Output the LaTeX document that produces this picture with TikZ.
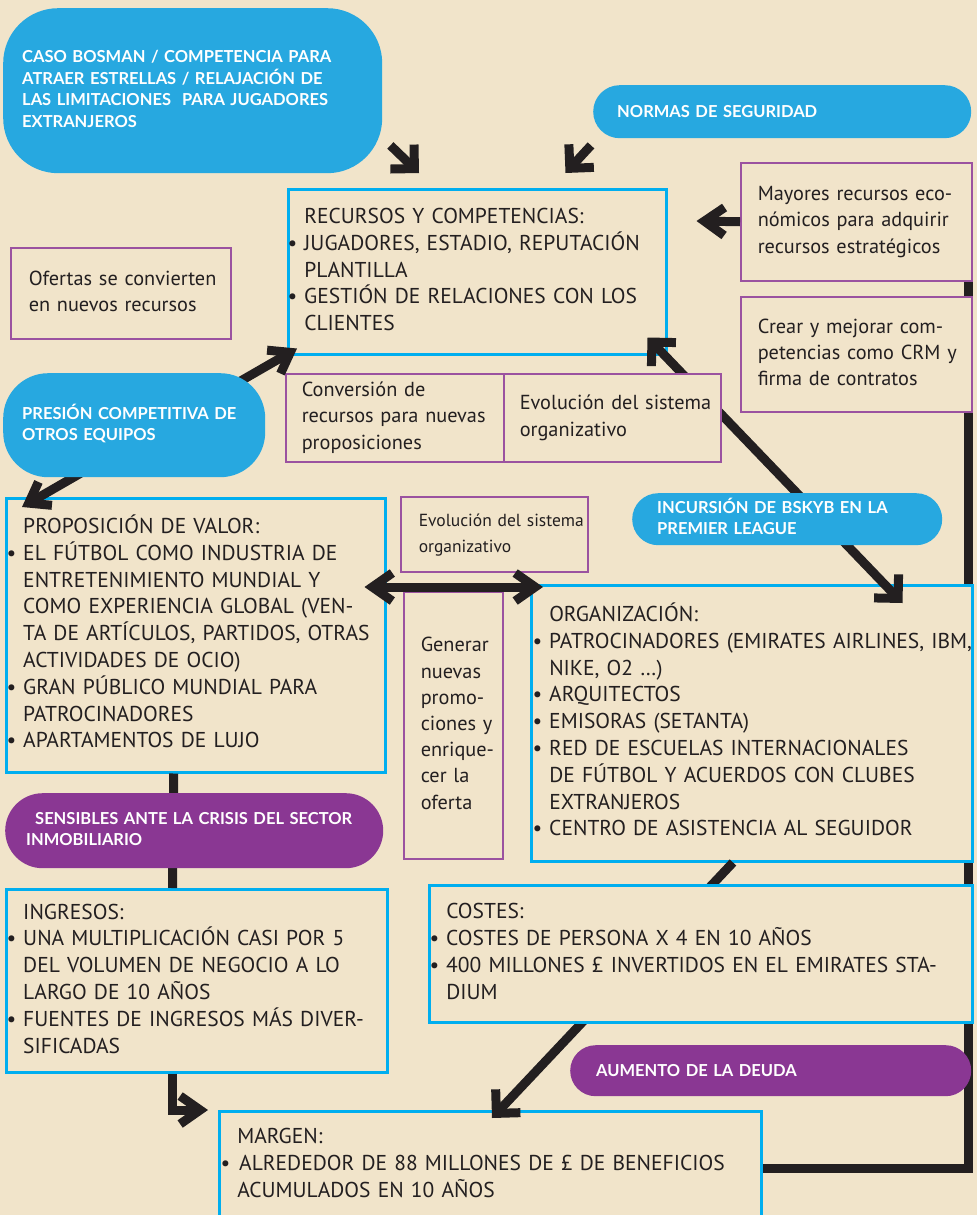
\documentclass[tikz,border=0pt]{standalone}
\usepackage{fontspec}
\setmainfont{PT Sans}
\newfontfamily\pillfam{Lato}
\usetikzlibrary{arrows.meta}
\pgfdeclarelayer{back}
\pgfdeclarelayer{behind}
\pgfdeclarelayer{arrows}
\pgfdeclarelayer{front}
\pgfsetlayers{back,behind,main,arrows,front}
\newcommand{\rows}[1]{\begin{tabular}{@{}l@{}}#1\end{tabular}}
\newcommand{\itm}{\llap{•\hspace{7pt}}}
\newcommand{\bodyfont}{\fontsize{21.5}{26.8}\selectfont}
\newcommand{\notefont}{\fontsize{20.3}{26.2}\selectfont}
\newcommand{\pillfont}{\pillfam\bfseries\fontsize{16.5}{21.3}\selectfont}

\begin{document}
\begin{tikzpicture}[x=1pt, y=-1pt,
        box/.style={draw=cyanline, line width=2.5pt, fill=paper, text=ink,
          anchor=north west, inner ysep=0pt, align=left, font=\bodyfont},
        note/.style={box, draw=plum, line width=1.5pt, font=\notefont},
        pill/.style={fill=skyblue, text=white, anchor=north west,
          inner ysep=0pt, align=left, font=\pillfont},
        ppill/.style={pill, fill=grape},
        lnk/.style={draw=ink, line width=9pt, line join=miter},
        Hd/.tip={Straight Barb[length=20pt,width=28pt]},
        Dg/.tip={Straight Barb[length=17pt,width=34pt]},
        Tw/.tip={Straight Barb[length=19pt,width=27pt]}]
      \definecolor{paper}{HTML}{F1E4CA}
      \definecolor{cyanline}{HTML}{00AEEF}
      \definecolor{skyblue}{HTML}{27A8E0}
      \definecolor{grape}{HTML}{8A3793}
      \definecolor{plum}{HTML}{9B52A0}
      \definecolor{ink}{HTML}{231F20}
      \begin{pgfonlayer}{back}
        \fill[paper] (0,0) rectangle (977,1215);
      \end{pgfonlayer}
      \useasboundingbox (0,0) rectangle (977,1215);

      % boxes behind the connectors
      \node[box, minimum width=378pt, minimum height=165pt, text width=346pt, inner xsep=16pt]
        (rec) at (287,188) {\rows{RECURSOS Y COMPETENCIAS:\\
          \itm JUGADORES, ESTADIO, REPUTACIÓN\\ PLANTILLA\\
          \itm GESTIÓN DE RELACIONES CON LOS\\ CLIENTES}};
      \node[note, minimum width=231pt, minimum height=118pt, text width=197pt, inner xsep=17pt]
        (mayores) at (740,162) {\rows{Mayores recursos eco-\\ nómicos para adquirir\\ recursos estratégicos}};
      \node[note, minimum width=220pt, minimum height=91pt, text width=184pt, inner xsep=18pt]
        (ofertas) at (10,247) {\rows{Ofertas se convierten\\ en nuevos recursos}};
      \node[note, minimum width=231pt, minimum height=115pt, text width=197pt, inner xsep=17pt]
        (crear) at (740,296) {\rows{Crear y mejorar com-\\ petencias como CRM y\\ firma de contratos}};
      \node[note, minimum width=218pt, minimum height=88pt, text width=186pt, inner xsep=16pt]
        (conv) at (285,373) {\rows{Conversión de\\ recursos para nuevas\\ proposiciones}};
      \node[box, minimum width=379pt, minimum height=274pt, text width=345pt, inner xsep=17pt]
        (prop) at (5,497) {\rows{PROPOSICIÓN DE VALOR:\\
          \itm EL FÚTBOL COMO INDUSTRIA DE\\ ENTRETENIMIENTO MUNDIAL Y\\
          COMO EXPERIENCIA GLOBAL (VEN-\\ TA DE ARTÍCULOS, PARTIDOS, OTRAS\\
          ACTIVIDADES DE OCIO)\\ \itm GRAN PÚBLICO MUNDIAL PARA\\ PATROCINADORES\\
          \itm APARTAMENTOS DE LUJO}};
      \node[note, minimum width=187pt, minimum height=75pt, text width=151pt, inner xsep=18pt,
        font=\fontsize{17.5}{26}\selectfont]
        (evolb) at (400,496) {\rows{Evolución del sistema\\ organizativo}};
      \node[note, minimum width=99pt, minimum height=267pt, text width=65pt, inner xsep=17pt]
        (gener) at (403,591) {\rows{Generar\\ nuevas\\ promo-\\ ciones y\\ enrique-\\ cer la\\ oferta}};
      \node[box, minimum width=441pt, minimum height=276pt, text width=405pt, inner xsep=18pt]
        (org) at (530,584) {\rows{ORGANIZACIÓN:\\
          \itm PATROCINADORES (EMIRATES AIRLINES, IBM,\\ NIKE, O2 …)\\
          \itm ARQUITECTOS\\ \itm EMISORAS (SETANTA)\\
          \itm RED DE ESCUELAS INTERNACIONALES\\ DE FÚTBOL Y ACUERDOS CON CLUBES\\
          EXTRANJEROS\\ \itm CENTRO DE ASISTENCIA AL SEGUIDOR}};
      \node[box, minimum width=381pt, minimum height=183pt, text width=347pt, inner xsep=17pt]
        (ingr) at (5,888) {\rows{INGRESOS:\\
          \itm UNA MULTIPLICACIÓN CASI POR 5\\ DEL VOLUMEN DE NEGOCIO A LO\\
          LARGO DE 10 AÑOS\\ \itm FUENTES DE INGRESOS MÁS DIVER-\\ SIFICADAS}};
      \node[box, minimum width=542pt, minimum height=108pt, text width=506pt, inner xsep=18pt]
        (marg) at (218,1110) {\rows{MARGEN:\\
          \itm\hspace{2pt}ALREDEDOR DE 88 MILLONES DE £ DE BENEFICIOS\\ ACUMULADOS EN 10 AÑOS}};

      % pills and boxes that the connectors pass under
      \begin{pgfonlayer}{front}
        \node[pill, minimum width=379pt, minimum height=165pt, text width=341pt, inner xsep=19pt,
          rounded corners=55pt] (bosman) at (3,8) {\rows{CASO BOSMAN / COMPETENCIA PARA\\
          ATRAER ESTRELLAS / RELAJACIÓN DE\\ LAS LIMITACIONES \ PARA JUGADORES\\ EXTRANJEROS}};
        \node[pill, minimum width=378pt, minimum height=53pt, text width=330pt, inner xsep=24pt,
          rounded corners=26.5pt] (normas) at (593,85) {NORMAS DE SEGURIDAD};
        \node[pill, minimum width=262pt, minimum height=104pt, text width=224pt, inner xsep=19pt,
          rounded corners=45pt] (presion) at (3,373) {\rows{PRESIÓN COMPETITIVA DE\\ OTROS EQUIPOS}};
        \node[note, minimum width=217pt, minimum height=88pt, text width=185pt, inner xsep=16pt]
          (evol) at (503,373) {\rows{Evolución del sistema\\ organizativo}};
        \node[pill, minimum width=310pt, minimum height=52pt, text width=260pt, inner xsep=25pt,
          rounded corners=26pt] (bskyb) at (632,493) {\rows{INCURSIÓN DE BSKYB EN LA\\ PREMIER LEAGUE}};
        \node[ppill, minimum width=378pt, minimum height=75pt, text width=336pt, inner xsep=21pt,
          rounded corners=37.5pt] (sens) at (5,793) {\rows{\hspace{9pt}SENSIBLES ANTE LA CRISIS DEL SECTOR\\
          INMOBILIARIO}};
        \node[box, minimum width=543pt, minimum height=137pt, text width=509pt, inner xsep=17pt]
          (cost) at (428,884) {\rows{COSTES:\\ \itm COSTES DE PERSONA X 4 EN 10 AÑOS\\
          \itm 400 MILLONES £ INVERTIDOS EN EL EMIRATES STA-\\ DIUM}};
        \node[ppill, minimum width=401pt, minimum height=51pt, text width=349pt, inner xsep=26pt,
          rounded corners=25.5pt] (deuda) at (570,1045) {AUMENTO DE LA DEUDA};
      \end{pgfonlayer}

      % feedback line from the margin back to the resources
      \begin{pgfonlayer}{behind}
        \draw[lnk] ([shift={(0,3)}]marg.east) -| ([shift={(-4,0)}]mayores.south east);
      \end{pgfonlayer}

      \begin{pgfonlayer}{arrows}
        \draw[lnk,-Dg] ([shift={(8,-28)}]bosman.south east) -- ([shift={(132,-15)}]rec.north west);
        \draw[lnk,-Dg] ([shift={(-2,7)}]normas.south west) -- ([shift={(-102,-15)}]rec.north east);
        \draw[lnk,-Hd] (mayores.west) -- ([shift={(29,33)}]rec.north east);
        \draw[lnk,Tw-Tw] ([shift={(17,10)}]prop.north west) -- ([shift={(10,-7)}]rec.south west);
        \draw[lnk,Dg-Dg] ([shift={(-20,-18)}]rec.south east) -- ([shift={(-71,19)}]org.north east);
        \draw[lnk,Hd-Hd] ([shift={(-22,90)}]prop.north east) -- ([shift={(13,3)}]org.north west);
        \draw[lnk] ([shift={(-22,0)}]prop.south) -- ([shift={(167.5,0)}]ingr.north west);
        \draw[lnk,-Dg] ([shift={(203,0)}]org.south west) -- ([shift={(274,8)}]marg.north west);
        \draw[lnk,-Hd] ([shift={(167.5,0)}]ingr.south west) |- ([shift={(-10,0)}]marg.north west);
      \end{pgfonlayer}
\end{tikzpicture}
\end{document}
